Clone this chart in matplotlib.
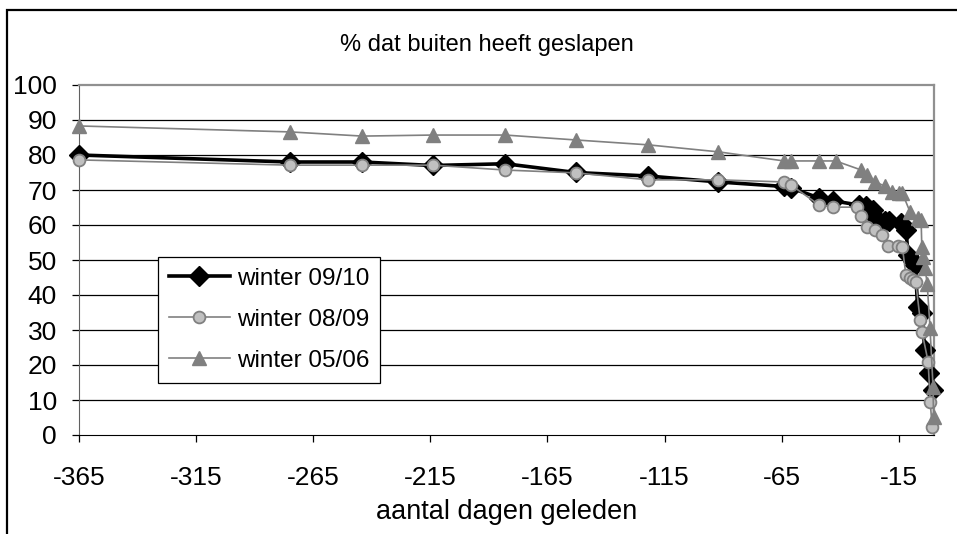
import matplotlib
matplotlib.use("Agg")
import matplotlib.pyplot as plt
from matplotlib.patches import Rectangle

plt.rcParams['font.family'] = ['Liberation Sans', 'DejaVu Sans']
plt.rcParams['axes.unicode_minus'] = False

# winter 09/10
x_0910 = [-365, -275, -244, -214, -183, -153, -122, -92, -64, -61,
          -49, -43, -32, -29, -26, -25, -21, -19, -14, -12,
          -11, -9, -8, -7, -5, -4, -2, -0.4]
y_0910 = [80, 78, 78, 77, 77.5, 75, 74, 72.3, 71, 70.6,
          67.7, 66.9, 65.7, 65.4, 64.3, 62.3, 61, 61, 60.5, 58.5,
          51.4, 49.7, 48.5, 36.6, 34.9, 24.3, 17.7, 12.9]

# winter 08/09
x_0809 = [-365, -275, -244, -214, -183, -153, -122, -92, -64, -61,
          -49, -43, -33, -31, -28.5, -25, -22, -19.5, -15.5, -13.5,
          -12, -10.2, -8.9, -7.8, -5.9, -5.1, -2.5, -1.6, -0.8]
y_0809 = [78.6, 77.1, 77.1, 77.1, 75.7, 74.9, 72.9, 72.9, 72.3, 71.4,
          65.7, 65.1, 65.1, 62.6, 59.4, 58.6, 57, 54, 54, 53.7,
          45.7, 44.9, 44.3, 43.7, 32.9, 29.4, 20.9, 9.4, 2.3]

# winter 05/06
x_0506 = [-365, -275, -244, -214, -183, -153, -122, -92, -64, -61,
          -49, -42, -31, -28.5, -25, -21, -18, -15, -13.5, -10.2,
          -6.8, -5.5, -5.2, -4.6, -3.8, -2.9, -1.7, -0.4, -0.2]
y_0506 = [88.3, 86.6, 85.4, 85.7, 85.7, 84.3, 82.9, 80.9, 78.3, 78.3,
          78.3, 78.3, 75.7, 74.3, 72.3, 71.1, 69.4, 69.1, 69.1, 63.7,
          62.0, 61.4, 53.7, 51.0, 47.7, 43.1, 30.6, 13.7, 5.1]

x_ticks = [-365, -315, -265, -215, -165, -115, -65, -15]
y_ticks = [0, 10, 20, 30, 40, 50, 60, 70, 80, 90, 100]

W, H = 957, 534
fig = plt.figure(figsize=(W / 100, H / 100), dpi=100)
ax = fig.add_axes([79 / W, 1 - 435 / H, (934 - 79) / W, (435 - 85) / H])

# outer chart border
fig.add_artist(Rectangle((7 / W, -0.5), 2, 0.5 + 1 - 10 / H, transform=fig.transFigure,
                         fill=False, edgecolor='black', lw=1.6))

for yv in y_ticks[1:-1]:
    ax.axhline(yv, color='black', lw=0.9, zorder=1)

ax.plot(x_0910, y_0910, color='black', lw=2.6, marker='D', ms=10,
        mfc='black', mec='black', label='winter 09/10', clip_on=False, zorder=3)
ax.plot(x_0809, y_0809, color='#808080', lw=1.2, marker='o', ms=8.5,
        mfc='#c0c0c0', mec='#808080', mew=1.3, label='winter 08/09', clip_on=False, zorder=4)
ax.plot(x_0506, y_0506, color='#808080', lw=1.2, marker='^', ms=9.5,
        mfc='#808080', mec='#808080', label='winter 05/06', clip_on=False, zorder=5)

ax.set_xlim(-365, 0)
ax.set_ylim(0, 100)
ax.set_xticks(x_ticks)
ax.set_yticks(y_ticks)
ax.tick_params(axis='both', labelsize=19, direction='out', length=5, width=0.9, color='black')
ax.tick_params(axis='x', pad=17)
ax.tick_params(axis='y', pad=11)

for side in ['top', 'right']:
    ax.spines[side].set_color('#909090')
    ax.spines[side].set_linewidth(1.6)
ax.spines['left'].set_color('#606060')
ax.spines['bottom'].set_color('black')

ax.set_xlabel('aantal dagen geleden', fontsize=19.5, labelpad=7)
fig.text(487 / W, 1 - 45 / H, '% dat buiten heeft geslapen', fontsize=17,
         ha='center', va='center')

leg = ax.legend(loc='upper left', bbox_to_anchor=(158 / W, 1 - 257 / H),
                bbox_transform=fig.transFigure, fontsize=17.5, frameon=True,
                fancybox=False, edgecolor='black', framealpha=1,
                handlelength=2.5, labelspacing=0.78, borderpad=0.45,
                handletextpad=0.3, borderaxespad=0)
leg.get_frame().set_linewidth(0.9)

fig.savefig('out.png', dpi=100)
